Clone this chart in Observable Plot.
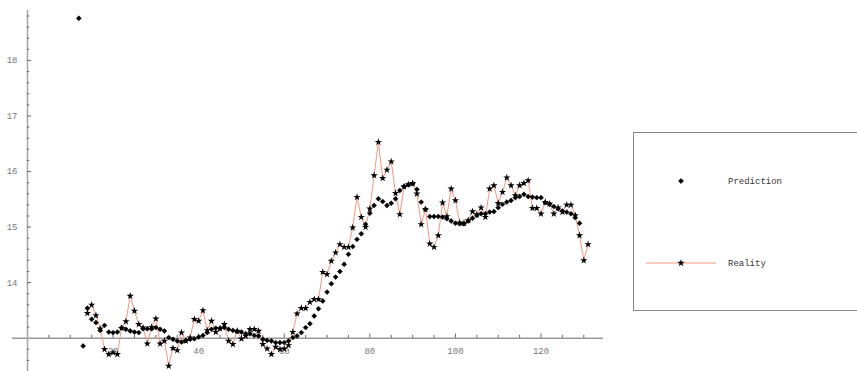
<!DOCTYPE html>
<html>
<head>
<meta charset="utf-8">
<script src="https://cdn.jsdelivr.net/npm/d3@7"></script>
<script src="https://cdn.jsdelivr.net/npm/@observablehq/plot@0.6"></script>
<style>
  html, body { margin: 0; padding: 0; background: #fff; }
  #wrap { position: relative; width: 857px; height: 371px; overflow: hidden; }
  #legend { position: absolute; left: 0; top: 0; }
</style>
</head>
<body>
<div id="wrap"></div>
<script>
// ---- data ----
const predStart = 12;
const predictionValues = [
  18.76, 12.86, 13.54, 13.34, 13.28, 13.14, 13.23, 13.11, 13.10, 13.11,
  13.19, 13.16, 13.13, 13.11, 13.10, 13.17, 13.17, 13.17, 13.19, 13.16,
  13.13, 13.01, 12.98, 12.95, 12.93, 12.96, 12.98, 12.99, 13.02, 13.05,
  13.10, 13.16, 13.18, 13.18, 13.19, 13.16, 13.14, 13.12, 13.11, 13.08,
  13.08, 13.05, 13.04, 12.98, 12.96, 12.95, 12.92, 12.92, 12.92, 12.95,
  13.01, 13.04, 13.10, 13.19, 13.26, 13.40, 13.53, 13.67, 13.83, 13.98,
  14.10, 14.20, 14.33, 14.51, 14.65, 14.78, 14.88, 15.05, 15.25, 15.39,
  15.51, 15.46, 15.39, 15.43, 15.51, 15.66, 15.73, 15.76, 15.78, 15.68,
  15.45, 15.32, 15.19, 15.19, 15.19, 15.18, 15.15, 15.11, 15.07, 15.06,
  15.06, 15.11, 15.16, 15.21, 15.24, 15.24, 15.27, 15.28, 15.35, 15.41,
  15.45, 15.48, 15.53, 15.55, 15.59, 15.55, 15.54, 15.53, 15.53, 15.44,
  15.41, 15.37, 15.33, 15.29, 15.27, 15.24, 15.17, 15.07
];
const realStart = 14;
const realityValues = [
  13.45, 13.60, 13.41, 13.17, 12.80, 12.71, 12.74, 12.71, 13.18, 13.30,
  13.76, 13.49, 13.25, 13.19, 12.90, 13.20, 13.35, 12.90, 12.95, 12.50,
  12.82, 12.78, 13.10, 12.95, 13.01, 13.34, 13.31, 13.50, 13.14, 13.31,
  13.11, 13.17, 13.25, 12.95, 12.89, 13.13, 12.99, 13.04, 13.16, 13.16,
  13.13, 12.89, 12.81, 12.71, 12.84, 12.80, 12.81, 12.87, 13.11, 13.44,
  13.54, 13.54, 13.65, 13.70, 13.70, 14.19, 14.15, 14.39, 14.54, 14.69,
  14.64, 14.64, 14.99, 15.54, 15.18, 15.00, 15.33, 15.93, 16.53, 15.88,
  16.03, 16.18, 15.61, 15.23, 15.73, 15.77, 15.79, 15.60, 15.05, 15.32,
  14.70, 14.64, 14.85, 15.44, 15.19, 15.69, 15.48, 15.08, 15.07, 15.12,
  15.28, 15.23, 15.35, 15.18, 15.69, 15.75, 15.43, 15.63, 15.89, 15.75,
  15.57, 15.75, 15.79, 15.84, 15.34, 15.34, 15.24, 15.45, 15.42, 15.24,
  15.35, 15.27, 15.40, 15.40, 15.21, 14.85, 14.40, 14.69
];
const xMajorTicks = [20, 40, 60, 80, 100, 120];
const xMinorTicks = [5, 10, 15, 25, 30, 35, 45, 50, 55, 65, 70, 75, 85, 90, 95, 105, 110, 115, 125, 130];
const yMajorTicks = [14, 15, 16, 17, 18];
const yMinorTicks = [12.6, 12.8, 13.2, 13.4, 13.6, 13.8, 14.2, 14.4, 14.6, 14.8, 15.2, 15.4, 15.6, 15.8,
  16.2, 16.4, 16.6, 16.8, 17.2, 17.4, 17.6, 17.8, 18.2, 18.4, 18.6, 18.8];
const seriesNames = ["Prediction", "Reality"];

const prediction = predictionValues.map((v, i) => ({x: predStart + i, y: v}));
const reality = realityValues.map((v, i) => ({x: realStart + i, y: v}));

const xDomain = [-3.5, 134.6];
const yDomain = [12.4, 18.9];
const axisY0 = 13;
const font = "'Liberation Mono', 'Courier New', monospace";
const lineColor = "#f39682";

const chart = Plot.plot({
  width: 857,
  height: 371,
  marginLeft: 12,
  marginRight: 254,
  marginTop: 10,
  marginBottom: 0,
  x: {domain: xDomain, axis: null},
  y: {domain: yDomain, axis: null},
  style: {background: "white", fontFamily: font},
  marks: [
    // axes
    Plot.ruleY([axisY0], {x1: xDomain[0], x2: xDomain[1], stroke: "#666", strokeWidth: 1}),
    Plot.ruleX([0], {y1: yDomain[0], y2: yDomain[1], stroke: "#aaa", strokeWidth: 1.6}),
    Plot.ruleX(xMajorTicks, {x: d => d, y1: axisY0, y2: axisY0 + 0.075, stroke: "#666"}),
    Plot.ruleX(xMinorTicks, {x: d => d, y1: axisY0, y2: axisY0 + 0.05, stroke: "#666"}),
    Plot.ruleY(yMajorTicks, {y: d => d, x1: 0, x2: 0.95, stroke: "#666"}),
    Plot.ruleY(yMinorTicks, {y: d => d, x1: 0, x2: 0.55, stroke: "#666"}),
    Plot.text(xMajorTicks, {x: d => d, y: axisY0, dy: 13, text: d => String(d), fill: "#777", fontSize: 9, fontFamily: font}),
    Plot.text(yMajorTicks, {x: 0, y: d => d, dx: -10, textAnchor: "end", text: d => String(d), fill: "#777", fontSize: 9, fontFamily: font}),
    // reality line + stars
    Plot.line(reality, {x: "x", y: "y", stroke: lineColor, strokeWidth: 1}),
    Plot.dot(reality, {x: "x", y: "y", symbol: "star", r: 2.3, fill: "black", stroke: "none"}),
    // prediction diamonds
    Plot.dot(prediction, {x: "x", y: "y", symbol: "diamond2", r: 2.2, fill: "black", stroke: "black", strokeWidth: 0.6})
  ]
});

const wrap = document.getElementById("wrap");
wrap.appendChild(chart);

// ---- legend (overlay) ----
const lg = d3.select(wrap).append("svg")
  .attr("id", "legend")
  .attr("width", 857).attr("height", 371);
lg.append("rect")
  .attr("x", 633.5).attr("y", 132.5).attr("width", 240).attr("height", 178)
  .attr("fill", "white").attr("stroke", "#888").attr("stroke-width", 1);
lg.append("path")
  .attr("transform", "translate(681,181)")
  .attr("d", d3.symbol(d3.symbolDiamond2, 16)())
  .attr("fill", "black").attr("stroke", "black").attr("stroke-width", 0.6);
lg.append("text").attr("x", 728).attr("y", 181).attr("dy", "0.32em")
  .attr("font-family", font).attr("font-size", 9).attr("fill", "#333").text(seriesNames[0]);
lg.append("line")
  .attr("x1", 646).attr("x2", 716).attr("y1", 263).attr("y2", 263)
  .attr("stroke", lineColor).attr("stroke-width", 1);
lg.append("path")
  .attr("transform", "translate(681,263)")
  .attr("d", d3.symbol(d3.symbolStar, 18)())
  .attr("fill", "black");
lg.append("text").attr("x", 728).attr("y", 263).attr("dy", "0.32em")
  .attr("font-family", font).attr("font-size", 9).attr("fill", "#333").text(seriesNames[1]);
</script>
</body>
</html>
